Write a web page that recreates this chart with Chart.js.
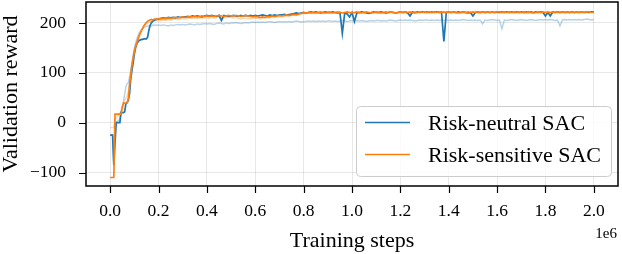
<!DOCTYPE html>
<html>
<head>
<meta charset="utf-8">
<script src="https://cdn.jsdelivr.net/npm/chart.js@4/dist/chart.umd.min.js"></script>
<style>
  html, body { margin: 0; padding: 0; background: #ffffff; }
  #wrap { width: 622px; height: 254px; }
</style>
</head>
<body>
<div id="wrap"><canvas id="c" width="622" height="254"></canvas></div>
<script>
// Training steps in thousands
const steps = [
  0,5,10,15,20,25,30,35,40,45,50,55,60,65,70,75,80,85,90,95,100,105,110,115,120,125,130,135,140,145,150,155,160,165,170,175,180,185,190,195,200,
  210,220,230,240,250,260,270,280,290,300,
  310,320,330,340,350,360,370,380,390,400,
  410,420,430,440,450,460,470,480,490,500,
  510,520,530,540,550,560,570,580,590,600,
  610,620,630,640,650,660,670,680,690,700,
  710,720,730,740,750,760,770,780,790,800,
  810,820,830,840,850,860,870,880,890,900,
  910,920,930,940,950,960,970,980,990,1000,
  1010,1020,1030,1040,1050,1060,1070,1080,1090,1100,
  1110,1120,1130,1140,1150,1160,1170,1180,1190,1200,
  1210,1220,1230,1240,1250,1260,1270,1280,1290,1300,
  1310,1320,1330,1340,1350,1360,1370,1380,1390,1400,
  1410,1420,1430,1440,1450,1460,1470,1480,1490,1500,
  1510,1520,1530,1540,1550,1560,1570,1580,1590,1600,
  1610,1620,1630,1640,1650,1660,1670,1680,1690,1700,
  1710,1720,1730,1740,1750,1760,1770,1780,1790,1800,
  1810,1820,1830,1840,1850,1860,1870,1880,1890,1900,
  1910,1920,1930,1940,1950,1960,1970,1980,1990,2000
];

// Risk-sensitive SAC (main, orange)
const riskSensitive = [
  -110,-110,-110,-110,17,17,17,17,17,17,30,39,39,39,40,48,75,95,115,130,143,152,160,167,174,180,185,190,195,198,201,203,205,206,207,206,207,208,207,208,208,
  208,209,208,210,209,210,211,210,211,212,
  211,212,213,212,213,212,213,214,213,214,
  213,214,213,214,215,214,213,214,215,214,
  214,215,214,213,214,215,214,213,212,213,
  212,211,212,211,213,212,214,213,214,215,
  214,215,216,215,216,217,216,218,219,220,
  220,221,220,221,220,221,222,221,220,221,
  221,220,221,222,221,220,221,222,221,220,
  221,222,221,220,221,222,221,220,221,222,
  221,220,221,222,221,222,221,220,221,222,
  221,222,221,222,221,220,221,222,221,222,
  221,222,221,222,221,222,221,222,221,222,
  221,222,221,220,221,222,221,222,221,222,
  221,222,221,222,221,222,221,222,221,222,
  222,221,222,221,222,221,222,221,222,221,
  222,221,222,221,220,221,222,221,222,221,
  222,221,222,221,222,221,222,221,222,221,
  222,221,222,221,222,221,222,222,221,222
];

// Risk-neutral SAC (main, blue)
const riskNeutral = [
  -25,-25,-25,-85,-40,0,0,0,0,20,20,20,22,38,40,45,58,88,105,120,138,150,158,162,165,166,167,167,168,168,168,172,185,195,200,203,205,206,207,208,208,
  209,210,209,211,210,211,210,212,211,212,
  212,213,212,214,213,214,213,212,214,215,
  214,215,214,213,215,205,215,214,213,214,
  215,214,213,215,214,215,214,215,214,215,
  214,215,216,215,214,216,215,216,215,216,
  216,217,216,217,218,219,220,219,220,221,
  220,221,222,221,222,221,220,221,222,221,
  221,222,221,220,221,179,220,218,212,221,
  203,220,221,222,221,220,219,221,222,221,
  221,222,221,220,221,222,221,220,221,222,
  221,222,220,214,222,221,222,221,222,221,
  222,221,222,221,222,221,222,163,221,222,
  221,222,221,222,221,222,221,220,221,214,
  221,222,221,222,221,222,221,222,221,222,
  221,222,221,222,221,222,221,222,221,222,
  221,222,221,222,221,222,221,222,221,214,
  221,214,222,221,222,221,222,221,222,221,
  222,221,222,221,222,221,222,221,222,222
];

// Faint single-run curve, risk-neutral
const riskNeutralRun = [
  -25,-25,-25,-88,-5,0,3,5,8,22,30,42,58,72,78,80,92,105,120,135,150,160,168,175,180,184,187,189,191,192,193,194,194,195,194,195,196,195,196,195,196,
  195,196,195,194,196,195,196,197,196,197,
  196,197,198,197,196,198,197,198,199,198,
  199,198,197,199,200,199,198,200,199,200,
  200,201,200,199,200,201,200,201,202,201,
  202,201,202,201,202,203,202,201,202,203,
  202,203,202,203,202,203,204,203,202,203,
  203,204,203,204,203,204,203,204,203,204,
  204,203,204,203,204,205,204,203,204,205,
  204,205,204,205,204,203,204,205,204,205,
  205,204,205,204,205,206,205,204,205,206,
  205,206,205,206,205,204,205,206,205,206,
  206,205,206,205,206,205,206,205,206,205,
  206,205,206,205,206,207,206,205,206,205,
  206,205,206,198,206,205,206,207,206,205,
  206,188,206,205,206,207,206,205,206,207,
  206,205,206,207,206,205,206,207,206,207,
  206,207,206,205,206,194,206,207,206,207,
  206,207,206,207,206,207,208,207,206,207
];

// Faint single-run curve, risk-sensitive
const riskSensitiveRun = [
  -10,-10,-10,-10,5,10,12,15,20,25,35,40,45,50,55,62,80,100,118,132,145,155,163,170,176,181,186,190,193,196,198,200,201,202,203,204,203,204,205,204,205,
  205,206,205,207,206,207,208,207,208,209,
  208,209,210,209,210,209,210,211,210,211,
  210,211,210,211,212,211,210,211,212,211,
  210,211,209,208,209,210,209,208,209,210,
  209,208,209,210,211,210,212,211,212,213,
  212,213,214,213,215,216,215,217,218,219,
  219,220,219,220,219,220,221,220,219,220,
  220,221,220,221,220,221,220,221,220,221,
  220,221,220,221,222,221,220,221,220,221,
  220,221,220,221,220,221,222,221,220,221,
  220,221,220,221,220,221,220,221,222,221,
  220,221,220,221,222,221,220,221,220,221,
  220,221,220,221,220,221,220,221,220,221,
  221,220,219,221,220,221,220,221,220,221,
  220,221,220,221,220,221,220,221,220,221,
  220,219,220,221,220,221,220,221,220,221,
  220,221,220,221,220,221,220,221,220,221,
  220,221,220,221,220,221,220,221,221,221
];

const xTicks = [0, 200, 400, 600, 800, 1000, 1200, 1400, 1600, 1800, 2000];
const yTicks = [-100, 0, 100, 200];
const seriesNames = ['Risk-neutral SAC', 'Risk-sensitive SAC'];

const BLUE = '#1f77b4';
const ORANGE = '#ff7f0e';
const SERIF = '"Liberation Serif", "DejaVu Serif", serif';

function toPoints(vals) {
  return steps.map((s, i) => ({ x: s * 1000, y: vals[i] }));
}

const decorPlugin = {
  id: 'decor',
  afterDatasetsDraw(chart) {
    const ctx = chart.ctx;
    const a = chart.chartArea;
    const xs = chart.scales.x, ys = chart.scales.y;
    ctx.save();
    // frame
    ctx.strokeStyle = '#000';
    ctx.lineWidth = 1.5;
    ctx.strokeRect(a.left, a.top, a.right - a.left, a.bottom - a.top);
    // tick marks
    ctx.lineWidth = 1.2;
    ctx.beginPath();
    xTicks.forEach(t => {
      const px = Math.round(xs.getPixelForValue(t * 1000)) + 0.5;
      ctx.moveTo(px, a.bottom);
      ctx.lineTo(px, a.bottom + 7);
    });
    yTicks.forEach(t => {
      const py = Math.round(ys.getPixelForValue(t)) + 0.5;
      ctx.moveTo(a.left, py);
      ctx.lineTo(a.left - 7, py);
    });
    ctx.stroke();

    // legend
    const bx = 356.5, by = 106.5, bw = 255, bh = 70, r = 4;
    ctx.beginPath();
    ctx.moveTo(bx + r, by);
    ctx.lineTo(bx + bw - r, by);
    ctx.quadraticCurveTo(bx + bw, by, bx + bw, by + r);
    ctx.lineTo(bx + bw, by + bh - r);
    ctx.quadraticCurveTo(bx + bw, by + bh, bx + bw - r, by + bh);
    ctx.lineTo(bx + r, by + bh);
    ctx.quadraticCurveTo(bx, by + bh, bx, by + bh - r);
    ctx.lineTo(bx, by + r);
    ctx.quadraticCurveTo(bx, by, bx + r, by);
    ctx.closePath();
    ctx.fillStyle = 'rgba(255,255,255,0.8)';
    ctx.fill();
    ctx.strokeStyle = '#cccccc';
    ctx.lineWidth = 1;
    ctx.stroke();

    const rows = [
      { name: seriesNames[0], color: BLUE, y: 122.5, base: 130 },
      { name: seriesNames[1], color: ORANGE, y: 154.5, base: 162 }
    ];
    ctx.font = '22px ' + SERIF;
    ctx.textAlign = 'left';
    ctx.textBaseline = 'alphabetic';
    rows.forEach(rw => {
      ctx.strokeStyle = rw.color;
      ctx.lineWidth = 1.5;
      ctx.beginPath();
      ctx.moveTo(365, rw.y);
      ctx.lineTo(410, rw.y);
      ctx.stroke();
      ctx.fillStyle = '#000';
      ctx.fillText(rw.name, 428, rw.base);
    });

    // offset text
    ctx.font = '15px ' + SERIF;
    ctx.textAlign = 'right';
    ctx.fillText('1e6', 617, 238);
    ctx.restore();
  }
};

new Chart(document.getElementById('c'), {
  type: 'line',
  data: {
    datasets: [
      { label: 'Risk-sensitive SAC', data: toPoints(riskSensitive), borderColor: ORANGE, borderWidth: 1.7, order: 0 },
      { label: 'Risk-neutral SAC', data: toPoints(riskNeutral), borderColor: BLUE, borderWidth: 1.7, order: 1 },
      { label: 'Risk-sensitive SAC run', data: toPoints(riskSensitiveRun), borderColor: 'rgba(255,127,14,0.33)', borderWidth: 1.4, order: 2 },
      { label: 'Risk-neutral SAC run', data: toPoints(riskNeutralRun), borderColor: 'rgba(31,119,180,0.33)', borderWidth: 1.4, order: 3 }
    ]
  },
  options: {
    responsive: false,
    animation: false,
    devicePixelRatio: 1,
    elements: { point: { radius: 0 }, line: { tension: 0, fill: false } },
    layout: { padding: { top: 2, right: 4, left: 0, bottom: 0 } },
    plugins: { legend: { display: false }, tooltip: { enabled: false } },
    scales: {
      x: {
        type: 'linear',
        min: -100000,
        max: 2100000,
        afterBuildTicks: s => { s.ticks = xTicks.map(v => ({ value: v * 1000 })); },
        afterFit: s => { s.height = 68; s.paddingLeft = 0; s.paddingRight = 0; },
        grid: { color: 'rgba(0,0,0,0.09)', lineWidth: 1, drawTicks: false },
        border: { display: false },
        ticks: {
          padding: 15,
          color: '#000',
          font: { family: SERIF, size: 17.5 },
          maxRotation: 0,
          autoSkip: false,
          callback: v => (v / 1e6).toFixed(1)
        },
        title: {
          display: true,
          text: 'Training steps',
          color: '#000',
          font: { family: SERIF, size: 22, lineHeight: 1.2 },
          padding: { top: 0, bottom: 0 }
        }
      },
      y: {
        min: -127,
        max: 242,
        afterBuildTicks: s => { s.ticks = yTicks.map(v => ({ value: v })); },
        afterFit: s => { s.width = 86; s.paddingTop = 0; s.paddingBottom = 0; },
        grid: { color: 'rgba(0,0,0,0.09)', lineWidth: 1, drawTicks: false },
        border: { display: false },
        ticks: {
          padding: 20,
          color: '#000',
          font: { family: SERIF, size: 17.5 },
          autoSkip: false,
          callback: v => (v < 0 ? '\u2212' + Math.abs(v) : String(v))
        },
        title: {
          display: true,
          text: 'Validation reward',
          color: '#000',
          font: { family: SERIF, size: 22, lineHeight: 1 },
          padding: { top: 0, bottom: 0 }
        }
      }
    }
  },
  plugins: [decorPlugin]
});
</script>
</body>
</html>
